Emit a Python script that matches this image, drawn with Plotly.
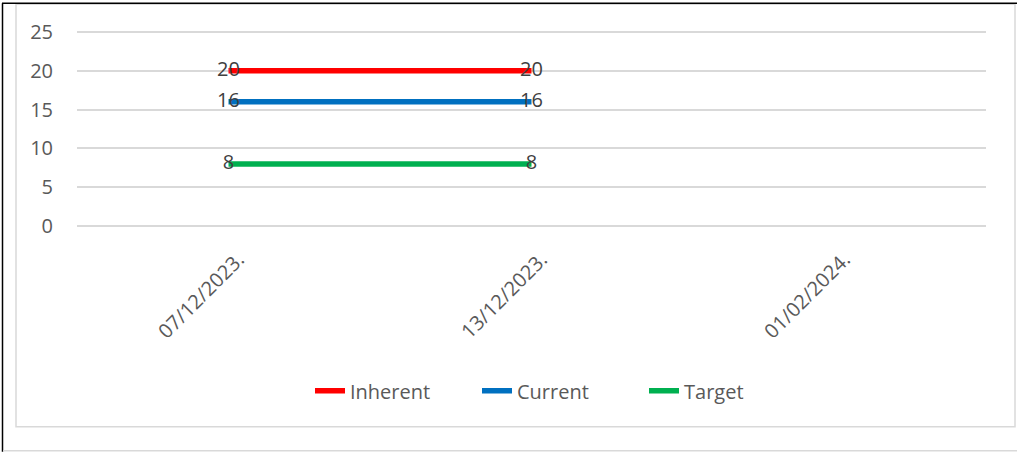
import plotly.graph_objects as go

categories = ["07/12/2023.", "13/12/2023.", "01/02/2024."]
inherent = [20, 20, None]
current = [16, 16, None]
target = [8, 8, None]
y_ticks = [0, 5, 10, 15, 20, 25]

series = [("Inherent", inherent, "#FF0000"), ("Current", current, "#0070C0"), ("Target", target, "#00B050")]
FONT = "Open Sans, Lato, sans-serif"

fig = go.Figure()
for name, vals, col in series:
    fig.add_trace(go.Scatter(
        x=categories, y=vals, name=name, mode="lines+text",
        line=dict(color=col, width=5.5),
        text=[str(v) if v is not None else "" for v in vals],
        textposition="middle center",
        textfont=dict(family=FONT, size=20, color="#404040"),
        cliponaxis=False,
    ))

W, H = 1017, 452
# pixel positions of y=25 and y=0 gridlines in the reference
Y25, Y0 = 32, 226
L, R = 77, 986
pad = 0.4  # extend range so end gridlines are drawn
upu = (Y0 - Y25) / 25.0
T = Y25 - pad * upu
B = Y0 + pad * upu
pw, ph = R - L, B - T

def px(x):
    return (x - L) / pw

def py(y):
    return (B - y) / ph

shapes = [
    dict(type="rect", xref="paper", yref="paper", x0=px(16), x1=px(1015), y0=py(427), y1=py(4),
         line=dict(color="#D9D9D9", width=1.5), fillcolor="rgba(0,0,0,0)", layer="below"),
    dict(type="line", xref="paper", yref="paper", x0=px(2), x1=px(1017), y0=py(3), y1=py(3),
         line=dict(color="#000000", width=1.5)),
    dict(type="line", xref="paper", yref="paper", x0=px(2.5), x1=px(2.5), y0=py(3), y1=py(452),
         line=dict(color="#000000", width=1.5)),
    dict(type="line", xref="paper", yref="paper", x0=px(3), x1=px(1017), y0=py(451), y1=py(451),
         line=dict(color="#D9D9D9", width=1.5)),
]

fig.update_layout(
    width=W, height=H,
    margin=dict(l=L, r=W - R, t=T, b=H - B),
    paper_bgcolor="white", plot_bgcolor="white",
    font=dict(family=FONT, size=20, color="#595959"),
    showlegend=True,
    legend=dict(orientation="h", x=px(310), xanchor="left", y=py(391), yanchor="middle",
                font=dict(family=FONT, size=20, color="#595959"), entrywidth=122, entrywidthmode="pixels"),
    xaxis=dict(type="category", range=[-0.5, 2.5], showgrid=False, zeroline=False,
               showline=False, ticks="", tickangle=-45, ticklabelshift=10, ticklabelstandoff=14,
               tickfont=dict(family=FONT, size=20, color="#595959")),
    yaxis=dict(range=[-pad, 25 + pad], tickvals=y_ticks, showgrid=True, gridcolor="#D9D9D9", gridwidth=1.5,
               zeroline=False, showline=False, ticks="", ticklabelstandoff=23,
               tickfont=dict(family=FONT, size=20, color="#595959")),
    shapes=shapes,
)

fig.write_html("out.html", config={"displayModeBar": False},
               post_script="document.body.style.margin='0';")
